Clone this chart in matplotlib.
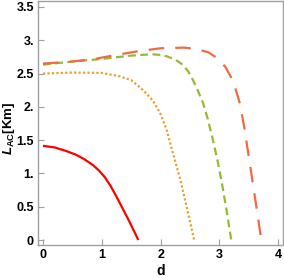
import matplotlib
matplotlib.use("Agg")
import matplotlib.pyplot as plt

plt.rcParams['font.family'] = ['Liberation Sans', 'DejaVu Sans']
plt.rcParams['mathtext.fontset'] = 'custom'
plt.rcParams['mathtext.rm'] = 'Liberation Sans:bold'
plt.rcParams['mathtext.it'] = 'Liberation Sans:bold:italic'
plt.rcParams['mathtext.bf'] = 'Liberation Sans:bold'

# curve data
d_red = [0, 0.2, 0.4, 0.55, 0.7, 0.85, 0.95, 1.05, 1.15, 1.25, 1.35, 1.45, 1.55, 1.62]
L_red = [1.415, 1.39, 1.335, 1.285, 1.215, 1.125, 1.045, 0.945, 0.81, 0.65, 0.48, 0.31, 0.13, 0.0]

d_orange = [0, 0.5, 1.0, 1.3, 1.5, 1.6, 1.7, 1.8, 1.87, 1.95, 2.0, 2.1, 2.21, 2.33, 2.45, 2.57]
L_orange = [2.50, 2.515, 2.51, 2.46, 2.40, 2.33, 2.25, 2.16, 2.09, 1.97, 1.89, 1.66, 1.30, 0.92, 0.47, 0.0]

d_green = [0, 0.5, 1.0, 1.5, 1.85, 2.0, 2.1, 2.25, 2.38, 2.47, 2.55, 2.63, 2.72, 2.8, 2.89, 2.97, 3.04, 3.12, 3.2]
L_green = [2.635, 2.68, 2.72, 2.77, 2.79, 2.78, 2.76, 2.71, 2.63, 2.53, 2.40, 2.25, 2.06, 1.82, 1.50, 1.18, 0.86, 0.45, 0.0]

d_tomato = [0, 0.48, 0.88, 1.24, 1.65, 2.0, 2.4, 2.6, 2.81, 2.95, 3.1, 3.2, 3.27, 3.35, 3.42, 3.49, 3.55, 3.61, 3.67, 3.71]
L_tomato = [2.65, 2.68, 2.72, 2.78, 2.84, 2.88, 2.89, 2.87, 2.82, 2.74, 2.60, 2.44, 2.28, 2.04, 1.70, 1.30, 0.95, 0.6, 0.25, 0.0]

x_ticks = [0, 1, 2, 3, 4]
y_ticks = [0, 0.5, 1, 1.5, 2, 2.5, 3, 3.5]
y_labels = ['0', '0.5', '1.', '1.5', '2.', '2.5', '3.', '3.5']

fig = plt.figure(figsize=(2.84, 2.78), dpi=100)
ax = fig.add_axes([38 / 284, 33 / 278, 245 / 284, 244 / 278])

ax.plot(d_red, L_red, color='#ff0000', lw=1.6, solid_capstyle='butt')
ax.plot(d_orange, L_orange, color='#eba030', lw=1.6, ls=(0, (1, 1)))
ax.plot(d_green, L_green, color='#98b838', lw=1.6, ls=(0, (3.5, 2)))
ax.plot(d_tomato, L_tomato, color='#ef6a45', lw=1.6, ls=(0, (7, 5)))

ax.set_xlim(-0.085, 4.08)
ax.set_ylim(-0.075, 3.59)
ax.set_xticks(x_ticks)
ax.set_xticklabels([str(t) for t in x_ticks])
ax.set_yticks(y_ticks)
ax.set_yticklabels(y_labels)

for s in ax.spines.values():
    s.set_color('#a0a0a0')
    s.set_linewidth(1.0)
ax.tick_params(direction='in', length=4, width=0.8, color='#a0a0a0',
               labelsize=9, pad=3)
for lab in ax.get_xticklabels() + ax.get_yticklabels():
    lab.set_fontweight('bold')

ax.set_xlabel('d', fontsize=10, fontweight='bold', va='center')
ax.set_ylabel(r'$L_{\mathrm{AC}}$[Km]', fontsize=9.5, fontweight='bold', va='center')
ax.xaxis.set_label_coords(0.5, -0.105)
ax.yaxis.set_label_coords(-0.119, 0.48)

fig.savefig('out.png', dpi=100)
